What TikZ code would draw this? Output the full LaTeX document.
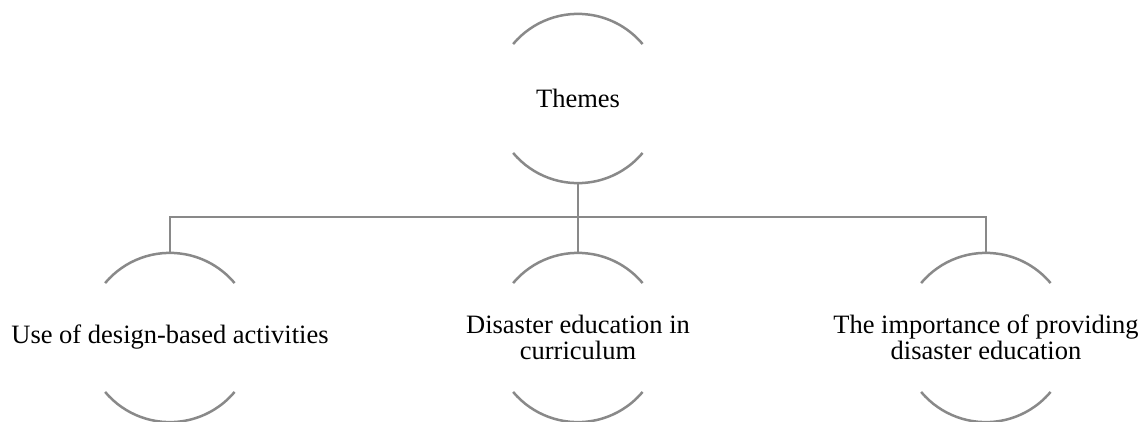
\documentclass[tikz,border=0pt]{standalone}
\usepackage{fontspec}
\setmainfont{Liberation Serif}
\begin{document}
\begin{tikzpicture}[x=1pt,y=-1pt,
  ring/.style={circle,minimum size=169pt,inner sep=0pt,draw=none},
  lbl/.style={align=center,inner sep=0pt,font=\fontsize{26.5pt}{26pt}\selectfont},
  rim/.style={draw=linegray,line width=2.5pt},
  link/.style={draw=linegray,line width=2.5pt}]
\definecolor{linegray}{RGB}{137,137,137}
\useasboundingbox (0,0) rectangle (1141,421);

% ring outlines: only the upper and lower arcs are drawn
\newcommand{\ringarcs}[1]{%
  \draw[rim] (#1.140) arc[start angle=140,end angle=40,radius=84.5pt];
  \draw[rim] (#1.220) arc[start angle=220,end angle=320,radius=84.5pt];}

\node[ring] (t) at (578,98.5) {};
\node[ring] (a) at (170,337.5) {};
\node[ring] (b) at (578,337.5) {};
\node[ring] (c) at (986,337.5) {};

\node[lbl] (tl) at (t) {Themes};
\node[lbl] (al) at (a) {Use of design-based activities};
\node[lbl] (bl) at (b) {Disaster education in\\curriculum};
\node[lbl] (cl) at (c) {The importance of providing\\disaster education};

\ringarcs{t}
\ringarcs{a}
\ringarcs{b}
\ringarcs{c}

% tree connectors
\coordinate (bar) at (578,217);
\draw[link] (t.south) -- (b.north);
\draw[link] (a.north) -- (a.north |- bar) -- (c.north |- bar) -- (c.north);
\end{tikzpicture}
\end{document}
